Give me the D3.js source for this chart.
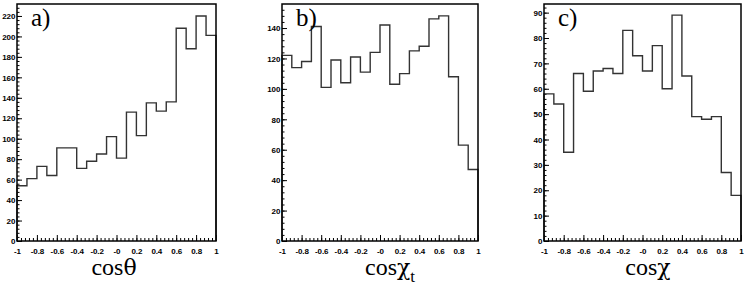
<!DOCTYPE html>
<html>
<head>
<meta charset="utf-8">
<script src="https://cdn.jsdelivr.net/npm/d3@7"></script>
<style>
  body { margin: 0; background: #fff; }
  svg { display: block; }
  .xlab text { font-family: "Liberation Sans", Arial, sans-serif; font-weight: bold; font-size: 8px; letter-spacing: -0.1px; fill: #000; }
  .ylab text { font-family: "Liberation Sans", Arial, sans-serif; font-weight: bold; font-size: 8px; fill: #000; }
</style>
</head>
<body>
<div id="chart"></div>
<script>
// bin edges shared by all three histograms
var binEdges = [-1, -0.9, -0.8, -0.7, -0.6, -0.5, -0.4, -0.3, -0.2, -0.1, 0,
  0.1, 0.2, 0.3, 0.4, 0.5, 0.6, 0.7, 0.8, 0.9, 1];

// counts per bin
var cosTheta = [54, 61, 73, 64, 91, 91, 71, 78, 85, 102,
  81, 126, 103, 135, 127, 136, 208, 188, 220, 201];
var cosChiT = [122, 114, 118, 141, 101, 119, 104, 121, 111, 124,
  142, 103, 110, 125, 128, 146, 148, 108, 63, 47];
var cosChi = [58, 54, 35, 66, 59, 67, 68, 66, 83, 73,
  67, 77, 60, 89, 65, 49, 48, 49, 27, 18];

var xTickVals = [-1, -0.8, -0.6, -0.4, -0.2, 0, 0.2, 0.4, 0.6, 0.8, 1];
var xTickLabels = ["-1", "-0.8", "-0.6", "-0.4", "-0.2", "-0", "0.2", "0.4", "0.6", "0.8", "1"];

var yTicksA = [0, 20, 40, 60, 80, 100, 120, 140, 160, 180, 200, 220];
var yTicksB = [0, 20, 40, 60, 80, 100, 120, 140];
var yTicksC = [0, 10, 20, 30, 40, 50, 60, 70, 80, 90];

var serif = "'Liberation Serif', 'Times New Roman', Times, 'DejaVu Serif', serif";
var greek = "'DejaVu Serif', 'Liberation Serif', serif";

var svgWidth = 744;
var svgHeight = 291;

var svg = d3.select("#chart")
  .append("svg")
  .attr("width", svgWidth)
  .attr("height", svgHeight);

var panels = [
  { left: 17, right: 216, ymax: 231.7, values: cosTheta, yTicks: yTicksA, minorStep: 4, letter: "a)" },
  { left: 282, right: 478, ymax: 155.8, values: cosChiT, yTicks: yTicksB, minorStep: 4, letter: "b)" },
  { left: 544, right: 741, ymax: 93.4, values: cosChi, yTicks: yTicksC, minorStep: 2, letter: "c)" }
];
var frameTop = 4, frameBottom = 241;

panels.forEach(function(p, i) {
  var x = d3.scaleLinear().domain([-1, 1]).range([p.left, p.right]);
  var y = d3.scaleLinear().domain([0, p.ymax]).range([frameBottom, frameTop]);

  var g = svg.append("g");

  // minor x ticks
  var xMinor = d3.range(-1, 1.0001, 0.04);
  g.append("g")
    .attr("transform", `translate(0, ${frameBottom})`)
    .call(d3.axisBottom(x).tickValues(xMinor).tickSizeInner(-3).tickSizeOuter(0).tickFormat(""))
    .call(s => s.select(".domain").remove())
    .selectAll("line").attr("stroke", "#000").attr("stroke-width", 1);

  // major x ticks + labels
  g.append("g")
    .attr("class", "xlab")
    .attr("transform", `translate(0, ${frameBottom})`)
    .call(d3.axisBottom(x).tickValues(xTickVals).tickSizeInner(-6).tickSizeOuter(0).tickPadding(0)
      .tickFormat((d, k) => xTickLabels[k]))
    .call(s => s.select(".domain").remove())
    .call(s => s.selectAll("line").attr("stroke", "#000").attr("stroke-width", 1))
    .call(s => s.selectAll("text").attr("y", 13).attr("dy", null));

  // minor y ticks
  var yMinor = d3.range(0, p.ymax, p.minorStep);
  g.append("g")
    .attr("transform", `translate(${p.left}, 0)`)
    .call(d3.axisLeft(y).tickValues(yMinor).tickSizeInner(-2.5).tickSizeOuter(0).tickFormat(""))
    .call(s => s.select(".domain").remove())
    .selectAll("line").attr("stroke", "#000").attr("stroke-width", 1);

  // major y ticks + labels
  g.append("g")
    .attr("class", "ylab")
    .attr("transform", `translate(${p.left}, 0)`)
    .call(d3.axisLeft(y).tickValues(p.yTicks).tickSizeInner(-5).tickSizeOuter(0).tickPadding(2)
      .tickFormat(d3.format("d")))
    .call(s => s.select(".domain").remove())
    .call(s => s.selectAll("line").attr("stroke", "#000").attr("stroke-width", 1))
    .call(s => s.selectAll("text").attr("x", -1.5).attr("dy", "0.34em"));

  // histogram outline
  var pts = [[x(binEdges[0]), y(0)]];
  p.values.forEach(function(v, k) {
    pts.push([x(binEdges[k]), y(v)]);
    pts.push([x(binEdges[k + 1]), y(v)]);
  });
  pts.push([x(binEdges[binEdges.length - 1]), y(0)]);

  g.append("path")
    .attr("d", d3.line()(pts))
    .attr("fill", "none")
    .attr("stroke", "#333")
    .attr("stroke-width", 1.4);

  // frame
  g.append("rect")
    .attr("x", p.left)
    .attr("y", frameTop)
    .attr("width", p.right - p.left)
    .attr("height", frameBottom - frameTop)
    .attr("fill", "none")
    .attr("stroke", "#000")
    .attr("stroke-width", 1.5);

  // panel letter
  g.append("text")
    .attr("x", p.left + 14)
    .attr("y", 26)
    .style("font-family", serif)
    .style("font-size", "25px")
    .text(p.letter);
});

// axis titles: latin part and greek letter in separate runs
function axisTitle(cx, anchor, letter, sub) {
  var t = svg.append("text")
    .attr("x", cx)
    .attr("y", 275)
    .attr("text-anchor", anchor)
    .style("font-size", "24px");
  t.append("tspan").style("font-family", serif).text("cos");
  t.append("tspan").style("font-family", greek).style("font-size", "22px").text(letter);
  if (sub) {
    t.append("tspan").attr("dy", 7).style("font-family", serif).style("font-size", "17px").text(sub);
  }
}
axisTitle(114, "middle", "θ");
axisTitle(365, "start", "χ", "t");
axisTitle(648, "middle", "χ");
</script>
</body>
</html>
